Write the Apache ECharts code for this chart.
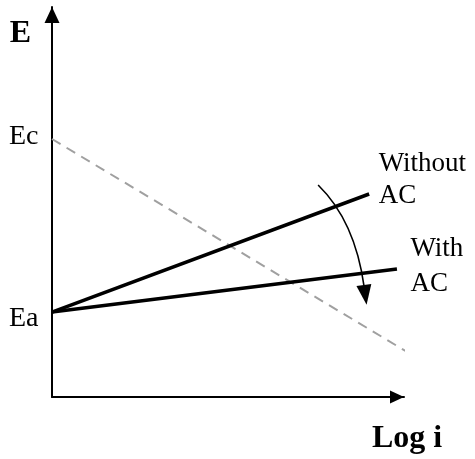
<!DOCTYPE html>
<html>
<head>
<meta charset="utf-8">
<script src="https://cdn.jsdelivr.net/npm/echarts@6/dist/echarts.min.js"></script>
<style>
  html, body { margin: 0; padding: 0; background: #fff; }
  #chart { width: 475px; height: 459px; }
</style>
</head>
<body>
<div id="chart"></div>
<script>
// Potential (E) vs log current density: cathodic line and two anodic lines
const ecLevel = 66.15;  // cathodic equilibrium potential
const eaLevel = 21.79;  // anodic equilibrium potential

// dashed cathodic branch, from Ec down to the right
const cathodicLine = [[0, ecLevel], [100.9, 11.54]];
// anodic branches starting at Ea
const withoutAcLine = [[0, eaLevel], [90.1, 52.05]];
const withAcLine = [[0, eaLevel], [98.0, 32.82]];
const lineLabels = ['Without\nAC', 'With\nAC'];

// curved arrow: start, control point, shaft end
const shiftArrow = [75.6, 54.36, 86.1, 45.13, 88.6, 28.72];

const serif = '"Liberation Serif", "Times New Roman", serif';
const textBase = { fontFamily: serif, fontSize: 27, color: '#000' };
const clear = 'rgba(0,0,0,0)';

function labelled(point, text, position, distance, offset, extra) {
  return {
    value: point,
    label: {
      show: true, formatter: text, position: position, distance: distance,
      offset: offset, ...textBase, ...(extra || {})
    }
  };
}

const chart = echarts.init(document.getElementById('chart'), null, { renderer: 'canvas' });

const lineCommon = {
  type: 'line', clip: false, showSymbol: true, symbol: 'circle', symbolSize: 1,
  itemStyle: { color: clear, borderColor: clear, borderWidth: 0 },
  label: { show: false }, emphasis: { disabled: true }
};

chart.setOption({
  animation: false,
  backgroundColor: '#fff',
  grid: { left: 52, right: 71, top: 7, bottom: 62, containLabel: false },
  xAxis: {
    type: 'value', min: 0, max: 100,
    name: 'Log i', nameLocation: 'end', nameGap: 3,
    nameTextStyle: {
      fontFamily: serif, fontSize: 32, fontWeight: 'bold', color: '#000',
      align: 'center', verticalAlign: 'top', padding: [26, 0, 0, 0]
    },
    axisLine: { show: true, symbol: ['none', 'triangle'], symbolSize: [13, 14],
      symbolOffset: [0, -7], lineStyle: { color: '#000', width: 2 } },
    axisTick: { show: false }, axisLabel: { show: false }, splitLine: { show: false }
  },
  yAxis: {
    type: 'value', min: 0, max: 100,
    name: 'E', nameLocation: 'end', nameGap: -27,
    nameTextStyle: {
      fontFamily: serif, fontSize: 32, fontWeight: 'bold', color: '#000',
      align: 'right', verticalAlign: 'middle', padding: [0, 21, 0, 0]
    },
    axisLine: { show: true, symbol: ['none', 'triangle'], symbolSize: [15, 16],
      symbolOffset: [0, -8], lineStyle: { color: '#000', width: 2 } },
    axisTick: { show: false }, axisLabel: { show: false }, splitLine: { show: false }
  },
  series: [
    {
      ...lineCommon, name: 'Cathodic',
      lineStyle: { color: '#a0a0a0', width: 2, type: [10, 7] },
      data: [
        labelled(cathodicLine[0], 'Ec', 'left', 13, [0, -2.5], { fontSize: 28 }),
        { value: cathodicLine[1] }
      ],
      z: 2
    },
    {
      ...lineCommon, name: 'Without AC',
      lineStyle: { color: '#000', width: 3.5 },
      data: [
        { value: withoutAcLine[0] },
        labelled(withoutAcLine[1], lineLabels[0], 'right', 9, [0, -14], { align: 'left', lineHeight: 32 })
      ],
      z: 3
    },
    {
      ...lineCommon, name: 'With AC',
      lineStyle: { color: '#000', width: 3.5 },
      data: [
        labelled(withAcLine[0], 'Ea', 'left', 13, [0, 7], { fontSize: 28 }),
        labelled(withAcLine[1], lineLabels[1], 'right', 13, [0, -2.5], { align: 'left', lineHeight: 35 })
      ],
      z: 3
    },
    {
      type: 'custom', name: 'shift', clip: false, z: 4,
      data: [shiftArrow],
      renderItem: function (params, api) {
        const p0 = api.coord([api.value(0), api.value(1)]);
        const c = api.coord([api.value(2), api.value(3)]);
        const p1 = api.coord([api.value(4), api.value(5)]);
        let dx = p1[0] - c[0], dy = p1[1] - c[1];
        const len = Math.sqrt(dx * dx + dy * dy);
        dx /= len; dy /= len;
        const headLen = 20, headHalf = 7.5;
        const tip = [p1[0] + dx * headLen, p1[1] + dy * headLen];
        const b1 = [p1[0] - dy * headHalf, p1[1] + dx * headHalf];
        const b2 = [p1[0] + dy * headHalf, p1[1] - dx * headHalf];
        return {
          type: 'group',
          children: [
            {
              type: 'bezierCurve',
              shape: { x1: p0[0], y1: p0[1], cpx1: c[0], cpy1: c[1], x2: p1[0] + dx * 2, y2: p1[1] + dy * 2 },
              style: { stroke: '#000', lineWidth: 1.6, fill: null }
            },
            {
              type: 'polygon',
              shape: { points: [tip, b1, b2] },
              style: { fill: '#000', stroke: null }
            }
          ]
        };
      }
    }
  ]
});
</script>
</body>
</html>
